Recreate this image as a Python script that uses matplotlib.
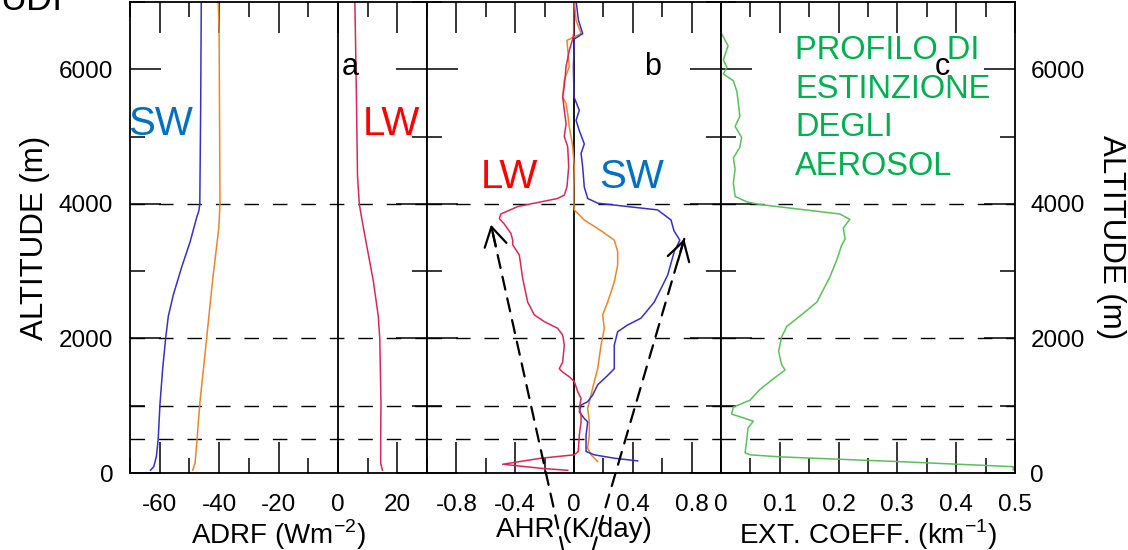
import matplotlib
matplotlib.use("Agg")
import matplotlib.pyplot as plt
from matplotlib.ticker import MultipleLocator, FuncFormatter

plt.rcParams["font.family"] = ["Liberation Sans", "DejaVu Sans"]
plt.rcParams["mathtext.fontset"] = "custom"
plt.rcParams["mathtext.rm"] = "Liberation Sans"

# ---- data (altitude in m) ----
# panel a: ADRF (W m-2)
sw_a_alt = [7020, 5460, 4000, 3900, 3790, 3430, 3060, 2650, 2330, 2000, 1550, 1030, 510, 250, 94, 42]
sw_a_val = [-46.0, -46.2, -46.5, -46.8, -47.6, -49.8, -52.6, -55.4, -57.1, -58.0, -59.0, -59.9, -60.5, -61.1, -62.0, -63.1]
net_a_alt = [7020, 6560, 4000, 3640, 3270, 2860, 2000, 1030, 510, 146, 42]
net_a_val = [-40.3, -40.0, -39.7, -40.1, -41.1, -42.2, -44.2, -46.5, -47.4, -48.1, -48.9]
lw_a_alt = [7020, 6000, 4420, 4000, 3790, 3380, 2860, 2330, 2000, 1030, 510, 146, 42]
lw_a_val = [5.7, 6.1, 6.6, 7.2, 8.0, 9.7, 11.9, 13.6, 14.1, 14.5, 14.4, 14.4, 15.0]

# panel b: AHR (K/day)
sw_b_alt = [7020, 6730, 6530, 6450, 6040, 5590, 5390, 5240, 5090, 4890, 4750, 4550, 4250, 4080,
            4010, 3960, 3910, 3760, 3600, 3460, 3290, 2940, 2540, 2300, 2200, 2100, 1900, 1550,
            1450, 1310, 1160, 1060, 1010, 910, 810, 760, 560, 320, 270, 220, 180]
sw_b_val = [0.014, 0.03, 0.059, 0.002, -0.004, 0.0, 0.036, 0.014, 0.036, 0.070, 0.048, 0.059, 0.070, 0.093,
            0.161, 0.365, 0.569, 0.66, 0.68, 0.72, 0.682, 0.637, 0.546, 0.455, 0.365, 0.297, 0.274, 0.274,
            0.229, 0.161, 0.127, 0.093, 0.048, 0.036, 0.070, 0.093, 0.082, 0.082, 0.138, 0.274, 0.433]
lw_b_alt = [7020, 6530, 6450, 6280, 6040, 5740, 5590, 5390, 5190, 5000, 4850, 4550, 4250, 4130, 4080,
            4030, 3960, 3850, 3780, 3700, 3560, 3460, 3390, 3240, 2890, 2540, 2350, 2250, 2150, 2050,
            1900, 1650, 1550, 1500, 1430, 1360, 1210, 1110, 960, 860, 760, 560, 320, 270, 220, 130, 70, 40]
lw_b_val = [-0.002, -0.002, -0.009, -0.032, -0.054, -0.066, -0.077, -0.066, -0.054, -0.066, -0.043, -0.036,
            -0.048, -0.066, -0.111, -0.224, -0.383, -0.497, -0.508, -0.474, -0.429, -0.417, -0.417, -0.372,
            -0.349, -0.315, -0.270, -0.202, -0.111, -0.077, -0.066, -0.077, -0.100, -0.077, -0.032, 0.002,
            0.025, 0.048, 0.036, 0.048, 0.048, 0.036, 0.029, 0.002, -0.224, -0.485, -0.224, -0.043]
net_b_alt = [7020, 6730, 6530, 6430, 6040, 5840, 5590, 5490, 5340, 5140, 5000, 4850, 4550, 4250, 4050,
             3910, 3760, 3600, 3460, 3290, 3090, 2840, 2540, 2350, 2150, 1900, 1550, 1360, 1160, 960,
             760, 560, 370, 270, 170]
net_b_val = [0.002, 0.014, 0.048, -0.048, -0.032, -0.066, -0.077, -0.054, -0.043, -0.032, -0.020, -0.009,
             0.002, -0.002, -0.002, 0.002, 0.070, 0.184, 0.274, 0.297, 0.297, 0.274, 0.229, 0.195, 0.206,
             0.184, 0.161, 0.138, 0.116, 0.093, 0.104, 0.104, 0.093, 0.116, 0.161]

# panel c: extinction coefficient (km-1)
ext_alt = [6530, 6350, 6140, 6030, 5930, 5830, 5670, 5460, 5300, 5150, 4990, 4840, 4680, 4520, 4310,
           4110, 4030, 3990, 3920, 3850, 3770, 3640, 3480, 3380, 3170, 2910, 2540, 2330, 2180, 2020,
           1810, 1610, 1530, 1400, 1240, 1080, 980, 875, 820, 770, 670, 510, 300, 270, 240, 170, 94, 45]
ext_val = [0.001, 0.012, 0.004, 0.010, 0.004, 0.021, 0.027, 0.030, 0.032, 0.024, 0.035, 0.032, 0.021,
           0.024, 0.021, 0.024, 0.044, 0.066, 0.134, 0.202, 0.219, 0.208, 0.211, 0.205, 0.197, 0.185,
           0.163, 0.134, 0.112, 0.103, 0.098, 0.103, 0.109, 0.089, 0.066, 0.049, 0.021, 0.018, 0.038,
           0.055, 0.046, 0.044, 0.041, 0.05, 0.10, 0.30, 0.497, 0.497]

dash_levels = [500, 1000, 2000, 4000]

c_sw = "#3a2fc4"
c_net = "#e8862a"
c_lw = "#d42a58"
c_green = "#5cbf5c"
c_text_blue = "#0070c0"
c_text_red = "#ff0000"
c_text_green = "#00b050"


def tick_fmt(v, pos):
    if abs(v) < 1e-9:
        return "0"
    return "%g" % round(v, 3)


fig = plt.figure(figsize=(11.28, 5.5), dpi=100)
W, H = 1128.0, 550.0
bot, hgt = 77 / H, 471 / H
ax_a = fig.add_axes([130 / W, bot, 297 / W, hgt])
ax_b = fig.add_axes([427 / W, bot, 294 / W, hgt])
ax_c = fig.add_axes([721 / W, bot, 294 / W, hgt])

setup = [(ax_a, (-70, 30), 20, 10), (ax_b, (-1, 1), 0.4, 0.2), (ax_c, (0, 0.5), 0.1, 0.05)]
for ax, xl, mj, mn in setup:
    ax.set_xlim(*xl)
    ax.set_ylim(0, 7000)
    ax.xaxis.set_major_locator(MultipleLocator(mj))
    ax.xaxis.set_minor_locator(MultipleLocator(mn))
    ax.yaxis.set_major_locator(MultipleLocator(2000))
    ax.yaxis.set_minor_locator(MultipleLocator(1000))
    ax.xaxis.set_major_formatter(FuncFormatter(tick_fmt))
    ax.tick_params(which="both", direction="in", top=True, right=True, width=1.1,
                   labelsize=17.5, labelleft=False)
    ax.tick_params(axis="x", pad=15)
    ax.tick_params(which="major", length=22)
    ax.tick_params(which="minor", length=11)
    for s in ax.spines.values():
        s.set_linewidth(1.3)
    for v in dash_levels:
        ax.axhline(v, color="k", lw=1.0, ls=(0, (10.5, 10)), zorder=1)

ax_a.tick_params(axis="y", labelleft=True, pad=12)
ax_c.tick_params(axis="y", labelright=True, pad=11)

# panel a
ax_a.axvline(0, color="k", lw=1.3)
ax_a.plot(sw_a_val, sw_a_alt, color=c_sw, lw=1.1)
ax_a.plot(net_a_val, net_a_alt, color=c_net, lw=1.1)
ax_a.plot(lw_a_val, lw_a_alt, color=c_lw, lw=1.1)
ax_a.text(4, 5910, "a", fontsize=22, ha="center")
ax_a.text(-70.7, 5020, "SW", fontsize=29, color=c_text_blue)
ax_a.text(8.3, 5030, "LW", fontsize=29, color=c_text_red)
ax_a.set_xlabel("ADRF (Wm$^{\\mathrm{-2}}$)", fontsize=20, labelpad=1)
ax_a.set_ylabel("ALTITUDE (m)", fontsize=22.5)
ax_a.yaxis.set_label_coords(-0.32, 0.5)
ax_a.yaxis.label.set_va("center")

# panel b
ax_b.axvline(0, color="k", lw=1.3)
ax_b.plot(net_b_val, net_b_alt, color=c_net, lw=1.1)
ax_b.plot(sw_b_val, sw_b_alt, color=c_sw, lw=1.1)
ax_b.plot(lw_b_val, lw_b_alt, color=c_lw, lw=1.1)
ax_b.text(0.535, 5910, "b", fontsize=22, ha="center")
ax_b.text(-0.633, 4230, "LW", fontsize=29, color=c_text_red)
ax_b.text(0.17, 4230, "SW", fontsize=29, color=c_text_blue)
ax_b.set_xlabel("AHR (K/day)", fontsize=20, labelpad=1)

# dashed arrows starting below the plot
for tip, tail, off in [((-0.565, 3690), (563 / W, 0.0), (3.5, -15.6)),
                       ((0.75, 3480), (593 / W, 0.0), (-4.4, -15.4))]:
    ax_b.annotate("", xy=tip, xytext=tail, textcoords="figure fraction",
                  arrowprops=dict(arrowstyle="-", color="k", lw=1.6, ls=(0, (6, 4)),
                                  shrinkA=0, shrinkB=0), annotation_clip=False, zorder=5)
    ax_b.annotate("", xy=tip, xytext=off, textcoords="offset points",
                  arrowprops=dict(arrowstyle="->,head_length=0.68,head_width=0.4", color="k",
                                  lw=1.6, shrinkA=0, shrinkB=0, mutation_scale=20),
                  annotation_clip=False, zorder=5)

# panel c
ax_c.plot(ext_val, ext_alt, color=c_green, lw=1.1)
ax_c.text(0.376, 5910, "c", fontsize=22, ha="center")
ax_c.text(0.126, 6515, "PROFILO DI\nESTINZIONE\nDEGLI\nAEROSOL", fontsize=23.5,
          color=c_text_green, va="top", linespacing=1.33)
ax_c.set_xlabel("EXT. COEFF. (km$^{\\mathrm{-1}}$)", fontsize=20, labelpad=1)
ax_c.yaxis.set_label_position("right")
ax_c.set_ylabel("ALTITUDE (m)", fontsize=22.5, rotation=270)
ax_c.yaxis.set_label_coords(1.327, 0.5)
ax_c.yaxis.label.set_va("center")

# cropped title fragment at the top-left corner
fig.text(0.0, 540 / H, "UDI", fontsize=26, ha="left", va="baseline")

fig.savefig("out.png", dpi=100)
